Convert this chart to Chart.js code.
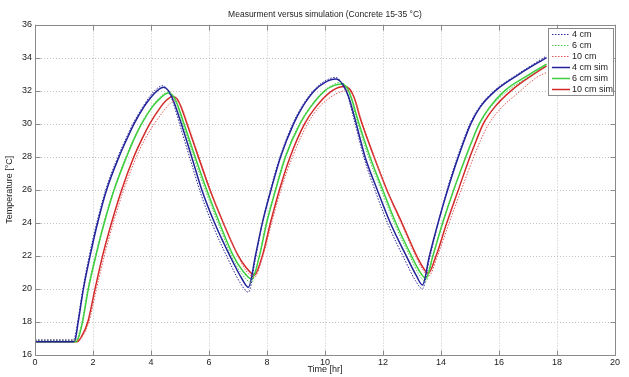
<!DOCTYPE html>
<html><head><meta charset="utf-8">
<script src="https://cdn.jsdelivr.net/npm/chart.js@4.4.1/dist/chart.umd.min.js"></script>
<style>html,body{margin:0;padding:0;background:#fff;}canvas{display:block;}</style>
</head><body>
<canvas id="c" width="629" height="377"></canvas>
<script>
const chartTitle = 'Measurment versus simulation (Concrete 15-35 °C)';
const xTitle = 'Time [hr]';
const yTitle = 'Temperature [°C]';
const xTicks = [0,2,4,6,8,10,12,14,16,18,20];
const yTicks = [16,18,20,22,24,26,28,30,32,34,36];
const legendLabels = ['4 cm','6 cm','10 cm','4 cm sim','6 cm sim','10 cm sim'];

// measured 4 cm
const meas4T = [0,1.28,1.36,1.47,1.65,1.87,2.13,2.44,2.86,3.11,3.38,3.71,3.96,4.19,4.4,4.57,4.74,4.93,5.36,5.71,6.14,6.66,7.1,7.36,7.6,7.83,8.12,8.45,8.89,9.19,9.6,9.97,10.36,10.58,10.78,10.98,11.35,11.76,12.2,12.74,13.12,13.36,13.6,13.89,14.21,14.57,15.0,15.32,15.84,16.65,17.64];
const meas4  = [16.9,16.9,17.0,18,20,22,24,26,28,29,30,31,31.65,32.1,32.3,32.05,31.4,30.3,27.8,25.8,23.8,21.8,20.3,19.8,21.8,23.9,26,28,30,31,32,32.55,32.8,32.45,31.7,30.4,27.9,25.8,23.8,21.8,20.5,20.0,21.8,23.9,26,28,30,31,32,33,34.1];
// measured 6 cm
const meas6T = [0,1.38,1.46,1.62,1.82,2.08,2.37,2.71,3.14,3.38,3.66,4.02,4.28,4.58,4.73,4.88,5.06,5.49,5.89,6.33,6.8,7.13,7.46,7.72,7.97,8.28,8.62,9.12,9.48,9.98,10.28,10.53,10.73,10.9,11.1,11.52,11.96,12.41,12.95,13.23,13.47,13.71,14.05,14.43,14.85,15.07,15.31,15.67,16.2,17.07,17.64];
const meas6  = [16.9,16.9,17.0,18,20,22,24,26,28,29,30,31,31.55,31.9,31.75,31.2,30.2,27.9,25.9,23.9,21.9,20.9,20.4,21.9,24,26,28,30,31,32,32.35,32.5,32.25,31.5,30.2,27.9,25.9,23.9,21.9,20.9,20.45,21.9,24,26,28,29,29.9,30.9,31.85,32.9,33.55];
// measured 10 cm
const meas10T = [0,1.45,1.62,1.86,2.12,2.39,2.7,3.06,3.5,3.77,4.08,4.45,4.62,4.8,4.95,5.08,5.26,5.66,6.05,6.5,7.0,7.28,7.56,7.86,8.16,8.48,8.88,9.4,9.8,10.38,10.75,10.92,11.06,11.26,11.7,12.12,12.62,13.12,13.36,13.58,13.88,14.28,14.7,15.13,15.37,15.62,16.05,16.65,17.3,17.64];
const meas10  = [16.9,16.9,17.1,18,20,22,24,26,28,29,29.9,30.8,31.15,31.4,31.3,30.9,30.0,28,26,24,22,21.1,20.7,22,24,26,28,30,31,31.8,32.0,31.85,31.3,30.2,28,26,24,22,21.2,20.8,22,24,26,28,29,29.9,30.9,31.85,32.8,33.1];
// simulated 4 cm
const sim4T = [0,1.3,1.38,1.49,1.67,1.9,2.16,2.47,2.9,3.15,3.42,3.75,4.0,4.22,4.43,4.6,4.77,4.97,5.4,5.75,6.19,6.72,7.14,7.36,7.6,7.84,8.14,8.47,8.92,9.22,9.64,10.0,10.38,10.6,10.8,11.0,11.38,11.8,12.25,12.8,13.15,13.36,13.6,13.9,14.23,14.6,15.03,15.35,15.88,16.7,17.64];
const sim4  = [16.8,16.8,16.9,18,20,22,24,26,28,29,30,31,31.6,32,32.2,32.0,31.4,30.4,28,26,24,22,20.6,20.1,22,24,26,28,30,31,32,32.5,32.7,32.4,31.7,30.5,28,26,24,22,20.8,20.24,22,24,26,28,30,31,32,33,34];
// simulated 6 cm
const sim6T = [0,1.4,1.48,1.64,1.84,2.1,2.39,2.73,3.16,3.4,3.68,4.04,4.3,4.6,4.75,4.9,5.08,5.52,5.92,6.36,6.84,7.16,7.47,7.74,7.99,8.3,8.64,9.14,9.5,10.0,10.3,10.55,10.75,10.92,11.12,11.55,11.99,12.44,12.98,13.25,13.48,13.72,14.06,14.44,14.86,15.08,15.32,15.68,16.2,17.07,17.64];
const sim6  = [16.8,16.8,16.95,18,20,22,24,26,28,29,30,31,31.5,31.85,31.7,31.2,30.3,28,26,24,22,21.1,20.6,22,24,26,28,30,31,32,32.3,32.4,32.2,31.5,30.3,28,26,24,22,21.1,20.65,22,24,26,28,29,30,31,32,33,33.6];
// simulated 10 cm
const sim10T = [0,1.45,1.6,1.82,2.07,2.33,2.64,2.99,3.41,3.67,3.96,4.33,4.52,4.74,4.9,5.04,5.22,5.63,6.03,6.49,7.01,7.28,7.56,7.84,8.12,8.43,8.8,9.3,9.68,10.25,10.67,10.85,11.02,11.22,11.69,12.13,12.65,13.16,13.38,13.56,13.83,14.2,14.6,15.0,15.22,15.46,15.85,16.42,17.2,17.64];
const sim10  = [16.8,16.8,17.1,18,20,22,24,26,28,29,30,31,31.4,31.65,31.5,31.0,30.1,28,26,24,22,21.3,20.85,22,24,26,28,30,31,32,32.25,32.1,31.5,30.3,28,26,24,22,21.3,20.95,22,24,26,28,29,30,31,32,33,33.5];

const pts = (t, v) => t.map((x, i) => ({x: x, y: v[i]}));
const colors = ['#2c2ca0', '#4cc84c', '#e05858', '#22229a', '#3ccf3c', '#d42828'];
const styles = [
  {data: pts(meas4T, meas4), dash: [1.5, 1.5], w: 1},
  {data: pts(meas6T, meas6), dash: [1.5, 1.5], w: 1},
  {data: pts(meas10T, meas10), dash: [1.5, 1.5], w: 1},
  {data: pts(sim4T, sim4), dash: [], w: 1.5},
  {data: pts(sim6T, sim6), dash: [], w: 1.5},
  {data: pts(sim10T, sim10), dash: [], w: 1.5}
];
const datasets = styles.map((s, i) => ({
  label: legendLabels[i], data: s.data, borderColor: colors[i], borderWidth: s.w,
  borderDash: s.dash, pointRadius: 0, fill: false, cubicInterpolationMode: 'monotone'
}));

const FONT = "'Liberation Sans', Arial, sans-serif";
Chart.defaults.font.family = FONT;
Chart.defaults.color = '#222';

const matlab = {
  id: 'matlab',
  beforeDatasetsDraw(chart) {
    const {ctx, chartArea: a, scales: {x, y}} = chart;
    ctx.save();
    ctx.strokeStyle = '#c2c2c2'; ctx.lineWidth = 1; ctx.setLineDash([1, 2]);
    xTicks.forEach(v => {
      const p = Math.round(x.getPixelForValue(v)) + 0.5;
      ctx.beginPath(); ctx.moveTo(p, a.top); ctx.lineTo(p, a.bottom); ctx.stroke();
    });
    yTicks.forEach(v => {
      const p = Math.round(y.getPixelForValue(v)) + 0.5;
      ctx.beginPath(); ctx.moveTo(a.left, p); ctx.lineTo(a.right, p); ctx.stroke();
    });
    ctx.restore();
  },
  afterDatasetsDraw(chart) {
    const {ctx, chartArea: a, scales: {x, y}} = chart;
    ctx.save();
    ctx.strokeStyle = '#8a8a8a'; ctx.lineWidth = 1; ctx.setLineDash([]);
    const L = Math.round(a.left) + 0.5, R = Math.round(a.right) + 0.5, T = Math.round(a.top) + 0.5, B = Math.round(a.bottom) + 0.5;
    ctx.strokeRect(L, T, R - L, B - T);
    const tl = 5;
    ctx.beginPath();
    xTicks.forEach(v => {
      const p = Math.round(x.getPixelForValue(v)) + 0.5;
      ctx.moveTo(p, B); ctx.lineTo(p, B - tl);
      ctx.moveTo(p, T); ctx.lineTo(p, T + tl);
    });
    yTicks.forEach(v => {
      const p = Math.round(y.getPixelForValue(v)) + 0.5;
      ctx.moveTo(L, p); ctx.lineTo(L + tl, p);
      ctx.moveTo(R, p); ctx.lineTo(R - tl, p);
    });
    ctx.stroke();
    // title centred over the plot area
    ctx.fillStyle = '#222'; ctx.font = '8.5px ' + FONT;
    ctx.textAlign = 'center'; ctx.textBaseline = 'middle';
    ctx.fillText(chartTitle, (a.left + a.right) / 2, 15);
    ctx.restore();
  },
  afterDraw(chart) {
    const ctx = chart.ctx;
    ctx.save();
    const bx = 548.5, by = 28.5, bw = 65, bh = 67;
    ctx.fillStyle = '#fff'; ctx.fillRect(bx, by, bw, bh);
    ctx.strokeStyle = '#8a8a8a'; ctx.lineWidth = 1; ctx.strokeRect(bx, by, bw, bh);
    ctx.font = '9px ' + FONT;
    ctx.textBaseline = 'middle'; ctx.textAlign = 'left';
    legendLabels.forEach((lab, i) => {
      const yy = 34.5 + i * 11;
      ctx.strokeStyle = colors[i]; ctx.lineWidth = styles[i].w;
      ctx.setLineDash(styles[i].dash);
      ctx.beginPath(); ctx.moveTo(552, yy); ctx.lineTo(570, yy); ctx.stroke();
      ctx.setLineDash([]);
      ctx.fillStyle = '#222'; ctx.fillText(lab, 572, yy + 0.5);
    });
    ctx.restore();
  }
};

new Chart(document.getElementById('c'), {
  type: 'line',
  data: {datasets: datasets},
  options: {
    responsive: false, animation: false, devicePixelRatio: 1,
    layout: {padding: {left: 0, right: 14, top: 24.5, bottom: 0}},
    plugins: {legend: {display: false}, tooltip: {enabled: false}, title: {display: false}},
    scales: {
      x: {
        type: 'linear', min: 0, max: 20,
        afterBuildTicks: s => { s.ticks = xTicks.map(v => ({value: v})); },
        afterFit: s => { s.height = 22; },
        grid: {display: false, drawTicks: false}, border: {display: false},
        ticks: {font: {size: 9}, color: '#222', padding: 2, maxRotation: 0},
        title: {display: true, text: xTitle, font: {size: 9}, color: '#222', padding: {top: 0, bottom: 2}}
      },
      y: {
        type: 'linear', min: 16, max: 36,
        afterBuildTicks: s => { s.ticks = yTicks.map(v => ({value: v})); },
        afterFit: s => { s.width = 35; },
        grid: {display: false, drawTicks: false}, border: {display: false},
        ticks: {font: {size: 9}, color: '#222', padding: 3},
        title: {display: true, text: yTitle, font: {size: 9}, color: '#222', padding: {top: 4, bottom: 0}}
      }
    }
  },
  plugins: [matlab]
});
</script>
</body></html>
